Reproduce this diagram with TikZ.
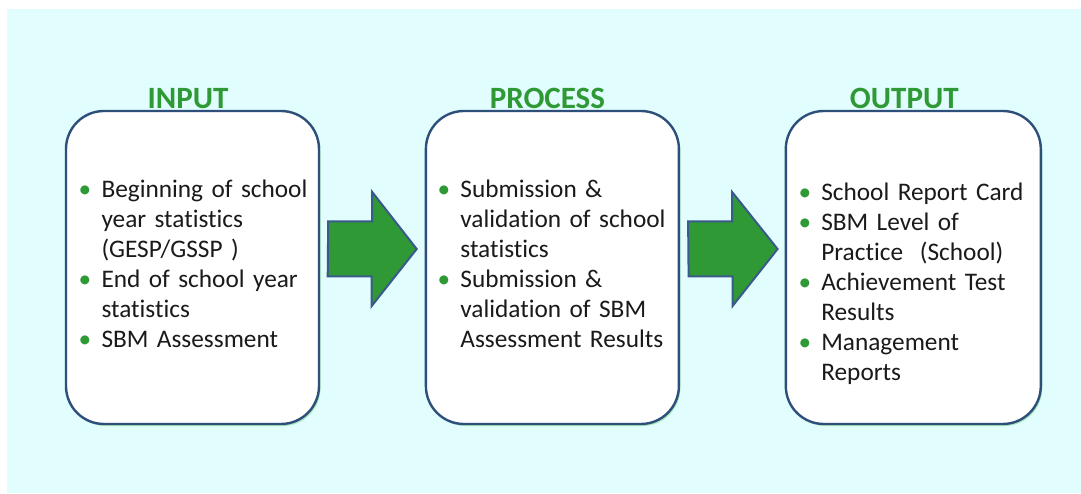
\documentclass[tikz,border=0pt]{standalone}
\usepackage{fontspec}
\setmainfont{Carlito}[Ligatures=NoCommon]
\usetikzlibrary{positioning, shadows}

\definecolor{bgcyan}{HTML}{E1FDFD}
\definecolor{boxline}{HTML}{2F4F7B}
\definecolor{glow}{HTML}{A8E8BC}
\definecolor{stagegreen}{HTML}{2F9A35}
\definecolor{arrowline}{HTML}{3B5A8C}
\definecolor{textblack}{HTML}{1A1A1A}

\newcommand{\stageitem}{\par\hangindent=24.5pt\hangafter=1\noindent
  \hbox to 24.5pt{\hbox to 16pt{\hss\textcolor{stagegreen}{\textbullet}\hss}\hss}}

\tikzset{
  stagebox/.style={draw=boxline, line width=2.4pt, fill=white, rounded corners=38pt,
    minimum width=253pt, minimum height=313pt,
    drop shadow={shadow xshift=1.5pt, shadow yshift=-2pt, fill=glow, opacity=1}},
  stagetitle/.style={text=stagegreen, font=\bfseries\fontsize{31}{31}\selectfont, inner sep=0pt, anchor=base},
  stagelist/.style={text=textblack, font=\fontsize{25.3}{30}\selectfont, text width=238pt,
    align=left, inner sep=0pt, anchor=north west},
  flowarrow/.style={draw=arrowline, line width=2pt, fill=stagegreen, line join=miter}
}

\begin{document}
\begin{tikzpicture}[x=1pt, y=1pt, node distance=104.5pt]
  \useasboundingbox (0,0) rectangle (1081,493);
  \fill[bgcyan] (7,0) rectangle (1081,484);

  \node[stagebox] (inbox) at (192.5,225.5) {};
  \node[stagebox, right=of inbox] (procbox) {};
  \node[stagebox, right=of procbox, minimum width=255pt] (outbox) {};

  \node[stagetitle] (intitle) at ([xshift=-4.5pt, yshift=1pt]inbox.north) {INPUT};
  \node[stagetitle] (proctitle) at ([xshift=-5pt, yshift=1pt]procbox.north) {PROCESS};
  \node[stagetitle] (outtitle) at ([xshift=-9pt, yshift=1pt]outbox.north) {OUTPUT};

  \node[stagelist] (inlist) at ([xshift=12pt, yshift=-58pt]inbox.north west) {
    \stageitem Beginning of school\newline year statistics\newline (GESP/GSSP\ )
    \stageitem End of school year\newline statistics
    \stageitem SBM Assessment\par};
  \node[stagelist] (proclist) at ([xshift=11pt, yshift=-58pt]procbox.north west) {
    \stageitem Submission \&\newline validation of school\newline statistics
    \stageitem Submission \&\newline validation of SBM\newline Assessment Results\par};
  \node[stagelist] (outlist) at ([xshift=12pt, yshift=-61pt]outbox.north west) {
    \stageitem School Report Card
    \stageitem SBM Level of\newline Practice\ \ (School)
    \stageitem Achievement Test\newline Results
    \stageitem Management\newline Reports\par};

  \draw[flowarrow] ([xshift=8pt, yshift=46pt]inbox.east) -- ++(44,0) -- ++(0,29.5)
    -- ([xshift=-8pt, yshift=18.5pt]procbox.west) -- ++(-45,-57) -- ++(0,29.5) -- ++(-44,0) -- cycle;
  \draw[flowarrow] ([xshift=8pt, yshift=46pt]procbox.east) -- ++(44,0) -- ++(0,29.5)
    -- ([xshift=-7pt, yshift=18.5pt]outbox.west) -- ++(-45,-57) -- ++(0,29.5) -- ++(-44,0) -- cycle;
\end{tikzpicture}
\end{document}
